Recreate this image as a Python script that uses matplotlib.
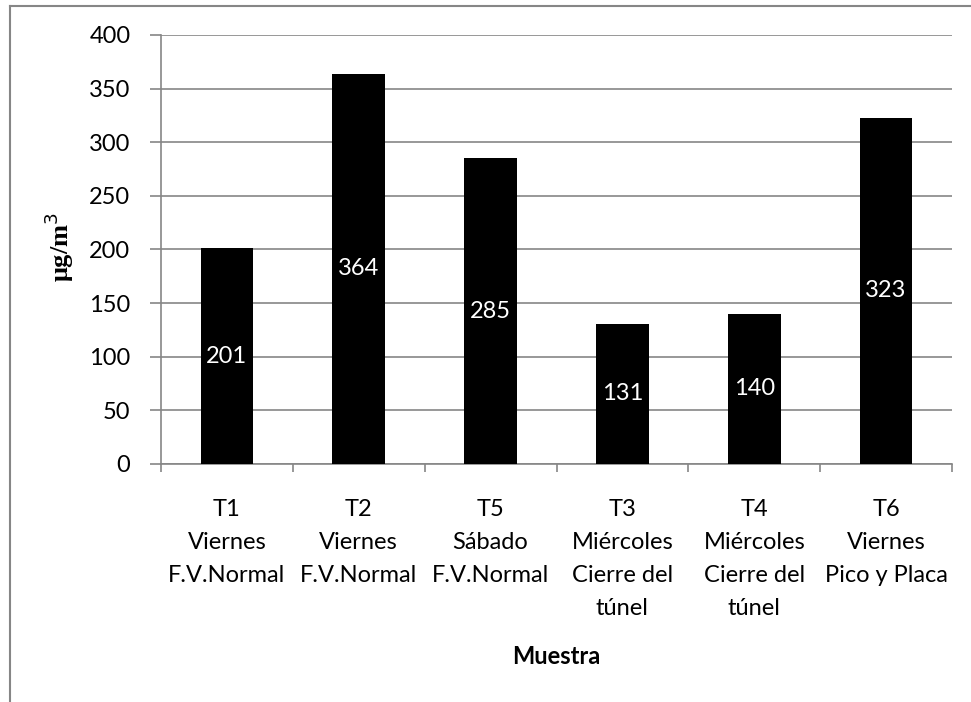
import matplotlib

matplotlib.use("Agg")
import matplotlib.pyplot as plt
from matplotlib.lines import Line2D

muestras = [
    "T1\nViernes\nF.V.Normal",
    "T2\nViernes\nF.V.Normal",
    "T5\nSábado\nF.V.Normal",
    "T3\nMiércoles\nCierre del\ntúnel",
    "T4\nMiércoles\nCierre del\ntúnel",
    "T6\nViernes\nPico y Placa",
]
concentracion = [201, 364, 285, 131, 140, 323]
yticks = [0, 50, 100, 150, 200, 250, 300, 350, 400]

W, H = 971, 702
GRAY = "#868686"
FS = 17

plt.rcParams["font.family"] = ["Lato", "DejaVu Sans"]

fig = plt.figure(figsize=(W / 100, H / 100), dpi=100)
ax = fig.add_axes([161 / W, 1 - 464 / H, (952 - 161) / W, (464 - 35) / H])

x = list(range(len(muestras)))
bars = ax.bar(x, concentracion, width=0.4, color="black", zorder=3)
for bar, v in zip(bars, concentracion):
    ax.text(bar.get_x() + bar.get_width() / 2, v / 2, str(v),
            ha="center", va="center", color="white", fontsize=FS, zorder=4)

ax.set_xlim(-0.5, len(muestras) - 0.5)
ax.set_ylim(0, 400)
ax.set_yticks(yticks)
ax.yaxis.grid(True, color=GRAY, linewidth=1.2, zorder=0)
ax.set_axisbelow(True)

ax.set_xticks([i - 0.5 for i in range(len(muestras) + 1)])
ax.set_xticklabels([])
ax.set_xticks(x, minor=True)
ax.set_xticklabels(muestras, minor=True, fontsize=FS, linespacing=1.72, va="top")
ax.tick_params(axis="x", which="major", direction="out", length=6, color=GRAY, width=1.2)
ax.tick_params(axis="x", which="minor", length=0, pad=25)
ax.tick_params(axis="y", direction="out", length=8, color=GRAY, width=1.2,
               labelsize=FS, pad=14)

for side in ("top", "right"):
    ax.spines[side].set_visible(False)
for side in ("left", "bottom"):
    ax.spines[side].set_color(GRAY)
    ax.spines[side].set_linewidth(1.2)

ax.set_ylabel("μg/m$^3$", fontfamily="Liberation Serif", fontweight="bold", fontsize=19)
ax.yaxis.set_label_coords(-0.108, 0.505)
fig.text(556 / W, 1 - 656 / H, "Muestra", ha="center", va="center",
         fontsize=FS, fontweight="bold")

# outer chart frame
fig.add_artist(Line2D([10 / W, 10 / W], [0, 1 - 6 / H], transform=fig.transFigure,
                      color=GRAY, linewidth=1.5))
fig.add_artist(Line2D([10 / W, 1], [1 - 6 / H, 1 - 6 / H], transform=fig.transFigure,
                      color=GRAY, linewidth=1.5))

fig.savefig("out.png", dpi=100)
